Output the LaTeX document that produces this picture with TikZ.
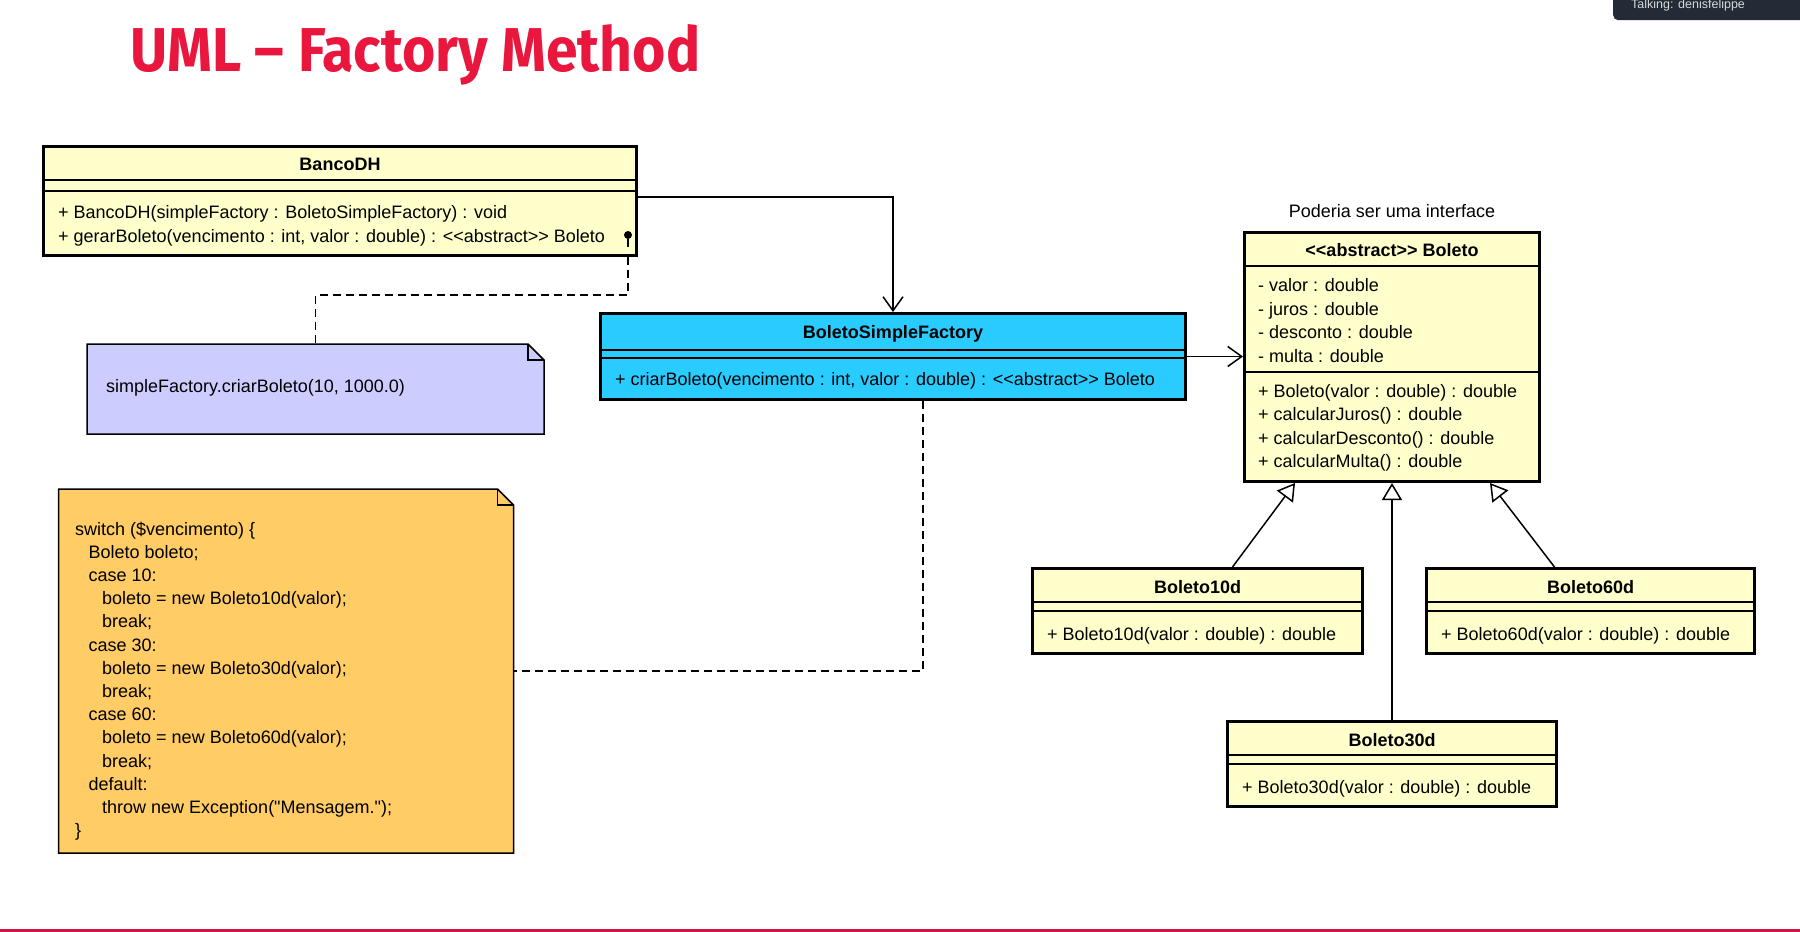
\documentclass[tikz,border=0pt]{standalone}
\usepackage{fontspec}
\usepackage{graphicx}
\newfontfamily\umlfont{Liberation Sans}
\newfontfamily\titlefont{Fira Sans}
\usepackage{tikz}
\usetikzlibrary{arrows.meta}
\usetikzlibrary{positioning}
\definecolor{classyellow}{RGB}{255,255,204}
\definecolor{factoryblue}{RGB}{41,204,255}
\definecolor{notelilac}{RGB}{204,204,255}
\definecolor{noteorange}{RGB}{255,204,102}
\definecolor{titlered}{RGB}{233,22,62}
\definecolor{bottomred}{RGB}{205,22,72}
\definecolor{popupgray}{RGB}{35,43,54}
\tikzstyle{classbox}=[draw, line width=3pt, inner sep=0pt, anchor=north west, fill=classyellow]
\tikzstyle{factorybox}=[classbox, fill=factoryblue]
\tikzstyle{classname}=[inner sep=0pt, anchor=base, font=\umlfont\fontsize{18}{22}\selectfont\bfseries]
\tikzstyle{member}=[inner sep=0pt, anchor=base west]
\tikzstyle{sepline}=[line width=2pt]
\tikzstyle{notebox}=[inner sep=0pt, outer sep=0pt, anchor=north west]
\tikzstyle{noteframe}=[draw, line width=1.5pt]
\tikzstyle{noteline}=[line width=1.5pt, dash pattern=on 8pt off 5pt]
\tikzstyle{pindot}=[circle, fill, inner sep=0pt, minimum size=8pt]
\tikzstyle{assoc}=[line width=1.5pt, -{Straight Barb[length=14pt, width=20pt]}]
\tikzstyle{inherit}=[line width=1.5pt, -{Triangle[open, length=17pt, width=20pt, fill=white]}]
\tikzstyle{popup}=[fill=popupgray, rounded corners=5pt, inner sep=0pt, anchor=north west]
\begin{document}
\begin{tikzpicture}[x=1pt, y=-1pt, font=\umlfont\fontsize{18}{23.2}\selectfont]
    \useasboundingbox (0,0) rectangle (1800,932);
    \clip (0,0) rectangle (1800,932);
    \fill[white] (0,0) rectangle (1800,932);
    \node[anchor=base west, inner sep=0pt, text=titlered] (Title) at (130,71) {\resizebox{570pt}{47pt}{\titlefont\bfseries UML – Factory Method}};
    \node[popup, minimum width=200pt, minimum height=30pt] (TalkBox) at (1613,-10) {};
    \node[member, text=gray!30, font=\umlfont\fontsize{12.5}{14}\selectfont] (TalkText) at (1631,8) {Talking: denisfelippe};
    % classes
    \node[classbox, minimum width=593pt, minimum height=109pt] (BancoDH) at (42,145) {};
    \node[classname] (BancoDHname) at ([yshift=-25pt]BancoDH.north) {BancoDH};
    \draw[sepline] ([yshift=-35pt]BancoDH.north west) -- ([yshift=-35pt]BancoDH.north east);
    \draw[sepline] ([yshift=-46pt]BancoDH.north west) -- ([yshift=-46pt]BancoDH.north east);
    \node[member] (BancoDHop1) at ([xshift=16pt, yshift=-73pt]BancoDH.north west) {+ BancoDH(simpleFactory : BoletoSimpleFactory) : void};
    \node[member] (BancoDHop2) at ([xshift=16pt, yshift=-97.5pt]BancoDH.north west) {+ gerarBoleto(vencimento : int, valor : double) : <<abstract>> Boleto};
    \node[pindot] (BancoDHpin) at ([xshift=-10pt, yshift=-90pt]BancoDH.north east) {};
    \draw[line width=2pt] (BancoDHpin) -- ++(0,12);
    \node[factorybox, minimum width=585pt, minimum height=86pt] (BoletoSimpleFactory) at (599,312) {};
    \node[classname] (BoletoSimpleFactoryname) at ([yshift=-26pt]BoletoSimpleFactory.north) {BoletoSimpleFactory};
    \draw[sepline] ([yshift=-38pt]BoletoSimpleFactory.north west) -- ([yshift=-38pt]BoletoSimpleFactory.north east);
    \draw[sepline] ([yshift=-46pt]BoletoSimpleFactory.north west) -- ([yshift=-46pt]BoletoSimpleFactory.north east);
    \node[member] (BoletoSimpleFactoryop1) at ([xshift=16pt, yshift=-73pt]BoletoSimpleFactory.north west) {+ criarBoleto(vencimento : int, valor : double) : <<abstract>> Boleto};
    \node[classbox, minimum width=295pt, minimum height=249pt] (Boleto) at (1243,231) {};
    \node[anchor=base, inner sep=0pt] (Boletocaption) at ([yshift=14pt]Boleto.north) {Poderia ser uma interface};
    \node[classname] (Boletoname) at ([yshift=-25pt]Boleto.north) {<<abstract>> Boleto};
    \draw[sepline] ([yshift=-35pt]Boleto.north west) -- ([yshift=-35pt]Boleto.north east);
    \node[member] (Boletoattr1) at ([xshift=15pt, yshift=-60pt]Boleto.north west) {- valor : double};
    \node[member] (Boletoattr2) at ([xshift=15pt, yshift=-84pt]Boleto.north west) {- juros : double};
    \node[member] (Boletoattr3) at ([xshift=15pt, yshift=-107pt]Boleto.north west) {- desconto : double};
    \node[member] (Boletoattr4) at ([xshift=15pt, yshift=-131pt]Boleto.north west) {- multa : double};
    \draw[sepline] ([yshift=-141pt]Boleto.north west) -- ([yshift=-141pt]Boleto.north east);
    \node[member] (Boletoop1) at ([xshift=15pt, yshift=-166.5pt]Boleto.north west) {+ Boleto(valor : double) : double};
    \node[member] (Boletoop2) at ([xshift=15pt, yshift=-189.5pt]Boleto.north west) {+ calcularJuros() : double};
    \node[member] (Boletoop3) at ([xshift=15pt, yshift=-213.5pt]Boleto.north west) {+ calcularDesconto() : double};
    \node[member] (Boletoop4) at ([xshift=15pt, yshift=-236.5pt]Boleto.north west) {+ calcularMulta() : double};
    \node[classbox, minimum width=330pt, minimum height=85pt] (Boleto10d) at (1031,567) {};
    \node[classname] (Boleto10dname) at ([yshift=-26pt]Boleto10d.north) {Boleto10d};
    \draw[sepline] ([yshift=-35pt]Boleto10d.north west) -- ([yshift=-35pt]Boleto10d.north east);
    \draw[sepline] ([yshift=-44pt]Boleto10d.north west) -- ([yshift=-44pt]Boleto10d.north east);
    \node[member] (Boleto10dop1) at ([xshift=16pt, yshift=-73pt]Boleto10d.north west) {+ Boleto10d(valor : double) : double};
    \node[classbox, minimum width=328pt, minimum height=85pt] (Boleto60d) at (1425,567) {};
    \node[classname] (Boleto60dname) at ([yshift=-26pt]Boleto60d.north) {Boleto60d};
    \draw[sepline] ([yshift=-35pt]Boleto60d.north west) -- ([yshift=-35pt]Boleto60d.north east);
    \draw[sepline] ([yshift=-44pt]Boleto60d.north west) -- ([yshift=-44pt]Boleto60d.north east);
    \node[member] (Boleto60dop1) at ([xshift=16pt, yshift=-73pt]Boleto60d.north west) {+ Boleto60d(valor : double) : double};
    \node[classbox, minimum width=329pt, minimum height=85pt] (Boleto30d) at (1226,720) {};
    \node[classname] (Boleto30dname) at ([yshift=-26pt]Boleto30d.north) {Boleto30d};
    \draw[sepline] ([yshift=-35pt]Boleto30d.north west) -- ([yshift=-35pt]Boleto30d.north east);
    \draw[sepline] ([yshift=-44pt]Boleto30d.north west) -- ([yshift=-44pt]Boleto30d.north east);
    \node[member] (Boleto30dop1) at ([xshift=16pt, yshift=-73pt]Boleto30d.north west) {+ Boleto30d(valor : double) : double};
    % notes
    \node[notebox, minimum width=457pt, minimum height=90pt] (CallNote) at (87,344) {};
    \draw[noteframe, fill=notelilac] (CallNote.north west) -- ([xshift=-16pt]CallNote.north east) -- ([yshift=-16pt]CallNote.north east) -- (CallNote.south east) -- (CallNote.south west) -- cycle;
    \draw[noteframe] ([xshift=-16pt]CallNote.north east) |- ([yshift=-16pt]CallNote.north east);
    \node[member] (CallNotetext) at (106,392) {simpleFactory.criarBoleto(10, 1000.0)};
    \node[notebox, minimum width=455pt, minimum height=364pt] (CodeNote) at (58.5,489) {};
    \draw[noteframe, fill=noteorange] (CodeNote.north west) -- ([xshift=-16pt]CodeNote.north east) -- ([yshift=-16pt]CodeNote.north east) -- (CodeNote.south east) -- (CodeNote.south west) -- cycle;
    \draw[noteframe] ([xshift=-16pt]CodeNote.north east) |- ([yshift=-16pt]CodeNote.north east);
    \node[inner sep=0pt, anchor=north west, align=left] (CodeNotetext) at (75,521.5) {switch (\$vencimento) \{\\
        \hspace*{13.5pt}Boleto boleto;\\
        \hspace*{13.5pt}case 10:\\
        \hspace*{27pt}boleto = new Boleto10d(valor);\\
        \hspace*{27pt}break;\\
        \hspace*{13.5pt}case 30:\\
        \hspace*{27pt}boleto = new Boleto30d(valor);\\
        \hspace*{27pt}break;\\
        \hspace*{13.5pt}case 60:\\
        \hspace*{27pt}boleto = new Boleto60d(valor);\\
        \hspace*{27pt}break;\\
        \hspace*{13.5pt}default:\\
        \hspace*{27pt}throw new Exception("Mensagem.");\\
        \}};
    % connectors
    \draw[assoc] ([yshift=4pt]BancoDH.east) -| (BoletoSimpleFactory.north);
    \draw[assoc] (BoletoSimpleFactory.east) -- (BoletoSimpleFactory.east -| Boleto.west);
    \draw[noteline] (BancoDHpin |- BancoDH.south) -- ++(0,38) -| (CallNote.north);
    \draw[noteline] ([xshift=30pt]BoletoSimpleFactory.south) |- (CodeNote.east);
    \draw[inherit] ([xshift=35pt]Boleto10d.north) -- ([xshift=-97pt]Boleto.south);
    \draw[inherit] (Boleto30d.north) -- (Boleto.south);
    \draw[inherit] ([xshift=-36pt]Boleto60d.north) -- ([xshift=98pt]Boleto.south);
    \fill[bottomred] (0,929) rectangle (1800,932);
\end{tikzpicture}
\end{document}
